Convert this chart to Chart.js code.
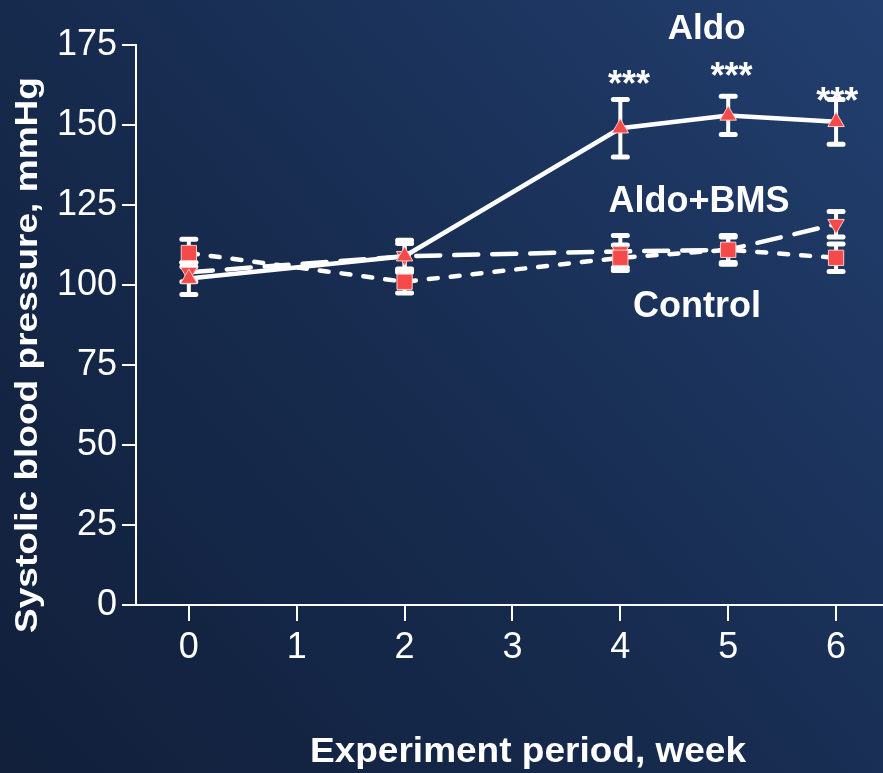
<!DOCTYPE html>
<html><head><meta charset="utf-8">
<script src="https://cdn.jsdelivr.net/npm/chart.js@4.4.1/dist/chart.umd.min.js"></script>
<style>html,body{margin:0;padding:0;background:#152a4c;overflow:hidden;} canvas{display:block;}</style>
</head><body>
<canvas id="c" width="883" height="773"></canvas>
<script>
// ---- data ----
const weeks = [0, 2, 4, 5, 6];
const aldo = [102, 109, 149, 153, 151];
const aldoErr = [5, 5, 9, 6, 7];
const aldoBms = [104, 109, 110.5, 111, 119];
const aldoBmsErr = [3, 4, 5, 4, 4];
const control = [110, 101, 108.5, 111, 108.5];
const controlErr = [4.3, 3.5, 4, 4.5, 4.3];
const xTicks = [0, 1, 2, 3, 4, 5, 6];
const yTicks = [0, 25, 50, 75, 100, 125, 150, 175];
const seriesNames = ['Aldo', 'Aldo+BMS', 'Control'];
const starText = '***';
const xTitle = 'Experiment period, week';
const yTitle = 'Systolic blood pressure, mmHg';

// annotation placement (data coordinates)
const notes = [
  {text: seriesNames[0], x: 4.80, y: 177.0, size: 35},
  {text: seriesNames[1], x: 4.73, y: 122.8, size: 36},
  {text: seriesNames[2], x: 4.71, y: 90.0, size: 36},
  {text: starText, x: 4.08, y: 159.2, size: 36},
  {text: starText, x: 5.03, y: 161.7, size: 36},
  {text: starText, x: 6.01, y: 153.9, size: 36}
];

const FONT = "'Liberation Sans', Arial, Helvetica, sans-serif";
const RED = '#f44a4a';

function pts(vals) { return weeks.map((w, i) => ({x: w, y: vals[i]})); }

const bgPlugin = {
  id: 'bg',
  beforeDraw(chart) {
    const ctx = chart.ctx, W = chart.width, H = chart.height;
    ctx.save();
    const g = ctx.createLinearGradient(0, H, W, 0);
    g.addColorStop(0, '#111f3a');
    g.addColorStop(0.5, '#172c50');
    g.addColorStop(1, '#223f6f');
    ctx.fillStyle = g;
    ctx.fillRect(0, 0, W, H);
    ctx.restore();
  }
};

const errPlugin = {
  id: 'errbars',
  beforeDatasetsDraw(chart) {
    const ctx = chart.ctx, xs = chart.scales.x, ys = chart.scales.y;
    const errs = [aldoBmsErr, controlErr, aldoErr];
    ctx.save();
    ctx.strokeStyle = '#ffffff';
    ctx.lineCap = 'round';
    chart.data.datasets.forEach((ds, di) => {
      ds.data.forEach((p, i) => {
        const e = errs[di][i];
        const px = xs.getPixelForValue(p.x);
        const top = ys.getPixelForValue(p.y + e);
        const bot = ys.getPixelForValue(p.y - e);
        ctx.lineWidth = 4;
        ctx.beginPath(); ctx.moveTo(px, top); ctx.lineTo(px, bot); ctx.stroke();
        ctx.lineWidth = 5;
        ctx.beginPath();
        ctx.moveTo(px - 7, top); ctx.lineTo(px + 7, top);
        ctx.moveTo(px - 7, bot); ctx.lineTo(px + 7, bot);
        ctx.stroke();
      });
    });
    ctx.restore();
  }
};

const textPlugin = {
  id: 'texts',
  afterDraw(chart) {
    const ctx = chart.ctx, xs = chart.scales.x, ys = chart.scales.y;
    ctx.save();
    ctx.fillStyle = '#ffffff';
    ctx.textBaseline = 'alphabetic';
    ctx.textAlign = 'center';
    notes.forEach(n => {
      ctx.font = 'bold ' + n.size + 'px ' + FONT;
      ctx.fillText(n.text, xs.getPixelForValue(n.x), ys.getPixelForValue(n.y));
    });
    // x title
    ctx.font = 'bold 35px ' + FONT;
    let w = ctx.measureText(xTitle).width;
    ctx.save();
    ctx.translate(528, 762);
    ctx.scale(436 / w, 1);
    ctx.fillText(xTitle, 0, 0);
    ctx.restore();
    // y title
    ctx.font = 'bold 31px ' + FONT;
    w = ctx.measureText(yTitle).width;
    ctx.save();
    ctx.translate(37, 355);
    ctx.rotate(-Math.PI / 2);
    ctx.scale(556 / w, 1);
    ctx.fillText(yTitle, 0, 0);
    ctx.restore();
    ctx.restore();
  }
};

new Chart(document.getElementById('c'), {
  type: 'line',
  data: {
    datasets: [
      {
        label: seriesNames[1], data: pts(aldoBms), order: 3,
        borderColor: '#ffffff', borderWidth: 4.5, borderDash: [24, 14], borderCapStyle: 'round',
        pointStyle: 'triangle', rotation: 180, pointRadius: 9.5, pointHoverRadius: 9.5,
        pointBackgroundColor: RED, pointBorderColor: '#ffc8c8', pointBorderWidth: 1, tension: 0
      },
      {
        label: seriesNames[2], data: pts(control), order: 2,
        borderColor: '#ffffff', borderWidth: 4.5, borderDash: [9, 13], borderCapStyle: 'round',
        pointStyle: 'rect', pointRadius: 10.8, pointHoverRadius: 10.8,
        pointBackgroundColor: RED, pointBorderColor: '#ffc8c8', pointBorderWidth: 1, tension: 0
      },
      {
        label: seriesNames[0], data: pts(aldo), order: 1,
        borderColor: '#ffffff', borderWidth: 4.5,
        pointStyle: 'triangle', pointRadius: 9.5, pointHoverRadius: 9.5,
        pointBackgroundColor: RED, pointBorderColor: '#ffc8c8', pointBorderWidth: 1, tension: 0
      }
    ]
  },
  options: {
    responsive: false,
    animation: false,
    events: [],
    layout: {autoPadding: false, padding: {top: 45, right: 0, left: 0, bottom: 0}},
    plugins: {legend: {display: false}, tooltip: {enabled: false}},
    scales: {
      x: {
        type: 'linear', min: -0.49, max: 6.435,
        afterBuildTicks: s => { s.ticks = xTicks.map(v => ({value: v})); },
        afterFit: s => { s.height = 168; s.paddingLeft = 0; s.paddingRight = 0; },
        grid: {drawOnChartArea: false, drawTicks: true, tickLength: 16, color: '#ffffff', lineWidth: 2},
        border: {color: '#ffffff', width: 2},
        ticks: {color: '#ffffff', font: {family: FONT, size: 36}, padding: 5, maxRotation: 0, autoSkip: false}
      },
      y: {
        min: 0, max: 175,
        afterBuildTicks: s => { s.ticks = yTicks.map(v => ({value: v})); },
        afterFit: s => { s.width = 136; s.paddingTop = 0; s.paddingBottom = 0; },
        grid: {drawOnChartArea: false, drawTicks: true, tickLength: 14, color: '#ffffff', lineWidth: 2},
        border: {color: '#ffffff', width: 2},
        ticks: {color: '#ffffff', font: {family: FONT, size: 36}, padding: 5}
      }
    }
  },
  plugins: [bgPlugin, errPlugin, textPlugin]
});
</script>
</body></html>
